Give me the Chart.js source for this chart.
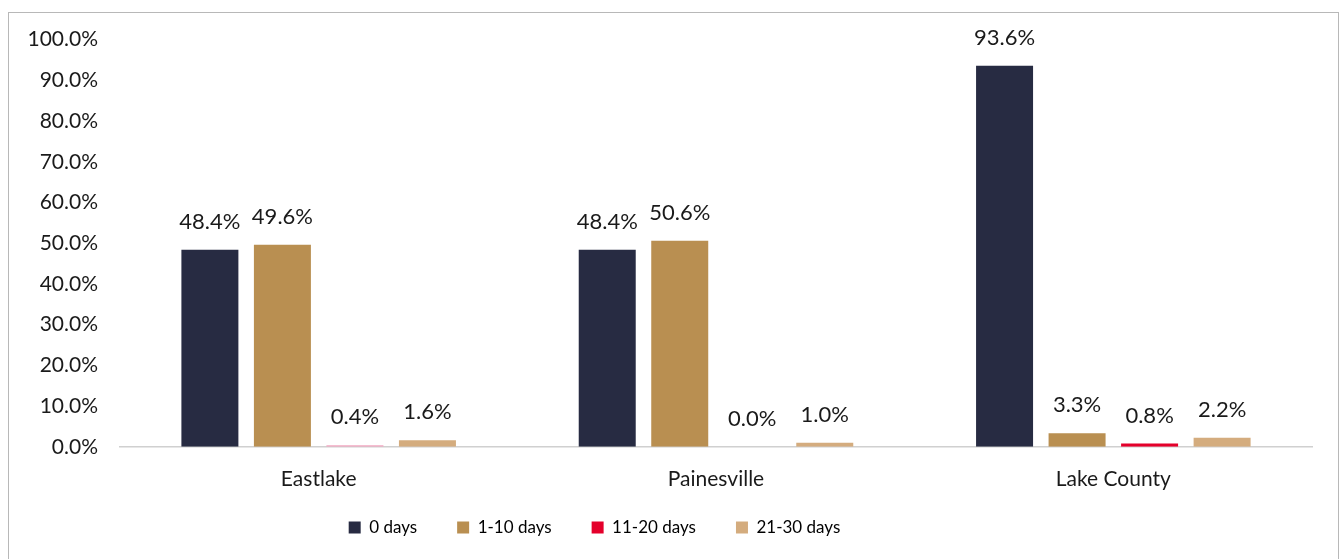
<!DOCTYPE html>
<html>
<head>
<meta charset="utf-8">
<script src="https://cdn.jsdelivr.net/npm/chart.js@4"></script>
<style>
  html, body { margin: 0; padding: 0; background: #fff; overflow: hidden; }
  #frame {
    position: absolute; left: 8px; top: 12px; width: 1331px; height: 580px;
    border: 1.5px solid #b8b8b8; box-sizing: border-box;
  }
  #wrap { position: absolute; left: 0; top: 0; width: 1329px; height: 558px; }
</style>
</head>
<body>
<div id="frame"><div id="wrap"><canvas id="chart"></canvas></div></div>
<script>
const categories = ['Eastlake', 'Painesville', 'Lake County'];
const seriesNames = ['0 days', '1-10 days', '11-20 days', '21-30 days'];
const zeroDays = [48.4, 48.4, 93.6];
const oneToTen = [49.6, 50.6, 3.3];
const elevenToTwenty = [0.4, 0.0, 0.8];
const twentyOneToThirty = [1.6, 1.0, 2.2];
const colors = ['#272b42', '#b98f51', '#e4002b', '#d4ac7e'];

const FONT = 'Lato, "Open Sans", sans-serif';

// labels above each bar
const valueLabels = {
    id: 'valueLabels',
    afterDatasetsDraw(chart) {
        let ctx = chart.ctx;
        ctx.save();
        ctx.font = '22px ' + FONT;
        ctx.fillStyle = '#1a1a1a';
        ctx.textAlign = 'center';
        ctx.textBaseline = 'bottom';
        chart.data.datasets.forEach((ds, i) => {
            chart.getDatasetMeta(i).data.forEach((bar, j) => {
                ctx.fillText(ds.data[j].toFixed(1) + '%', bar.x, bar.y - 17);
            });
        });
        ctx.restore();
    }
};

// the legend keeps wide gaps between items but sits closer to the axis labels,
// and a bit left of centre like the original
const legendShift = {
    id: 'legendShift',
    afterLayout(chart) {
        chart.legend.top -= 25;
        chart.legend.bottom -= 25;
        chart.legend.left -= 74;
        chart.legend.right -= 74;
    }
};

let allSeries = [zeroDays, oneToTen, elevenToTwenty, twentyOneToThirty];

new Chart(document.getElementById('chart'), {
    type: 'bar',
    data: {
        labels: categories,
        datasets: allSeries.map((vals, i) => ({
            label: seriesNames[i],
            data: vals,
            backgroundColor: i === 2 ? ['#f2a7c0', colors[2], colors[2]] : colors[i],
            categoryPercentage: 0.73,
            barPercentage: 0.786
        }))
    },
    options: {
        responsive: true,
        maintainAspectRatio: false,
        animation: false,
        layout: { padding: { top: 9, right: 26, left: 16, bottom: 0 } },
        plugins: {
            legend: {
                position: 'bottom',
                labels: {
                    boxWidth: 12, boxHeight: 12, padding: 40,
                    color: '#1a1a1a',
                    font: { size: 17, family: FONT },
                    generateLabels: chart => seriesNames.map((n, i) => ({
                        text: n, fillStyle: colors[i], strokeStyle: colors[i],
                        lineWidth: 0, datasetIndex: i
                    }))
                }
            },
            tooltip: { enabled: false }
        },
        scales: {
            x: {
                grid: { display: false },
                border: { color: '#d0d0d0', width: 1.5 },
                ticks: { color: '#1a1a1a', padding: 12, font: { size: 21, family: FONT } }
            },
            y: {
                min: 0, max: 100,
                grid: { display: false },
                border: { display: false },
                ticks: {
                    stepSize: 10, padding: 14, color: '#1a1a1a',
                    font: { size: 21, family: FONT },
                    callback: v => v.toFixed(1) + '%'
                },
                afterFit: scale => { scale.width = 95; }
            }
        }
    },
    plugins: [valueLabels, legendShift]
});
</script>
</body>
</html>
